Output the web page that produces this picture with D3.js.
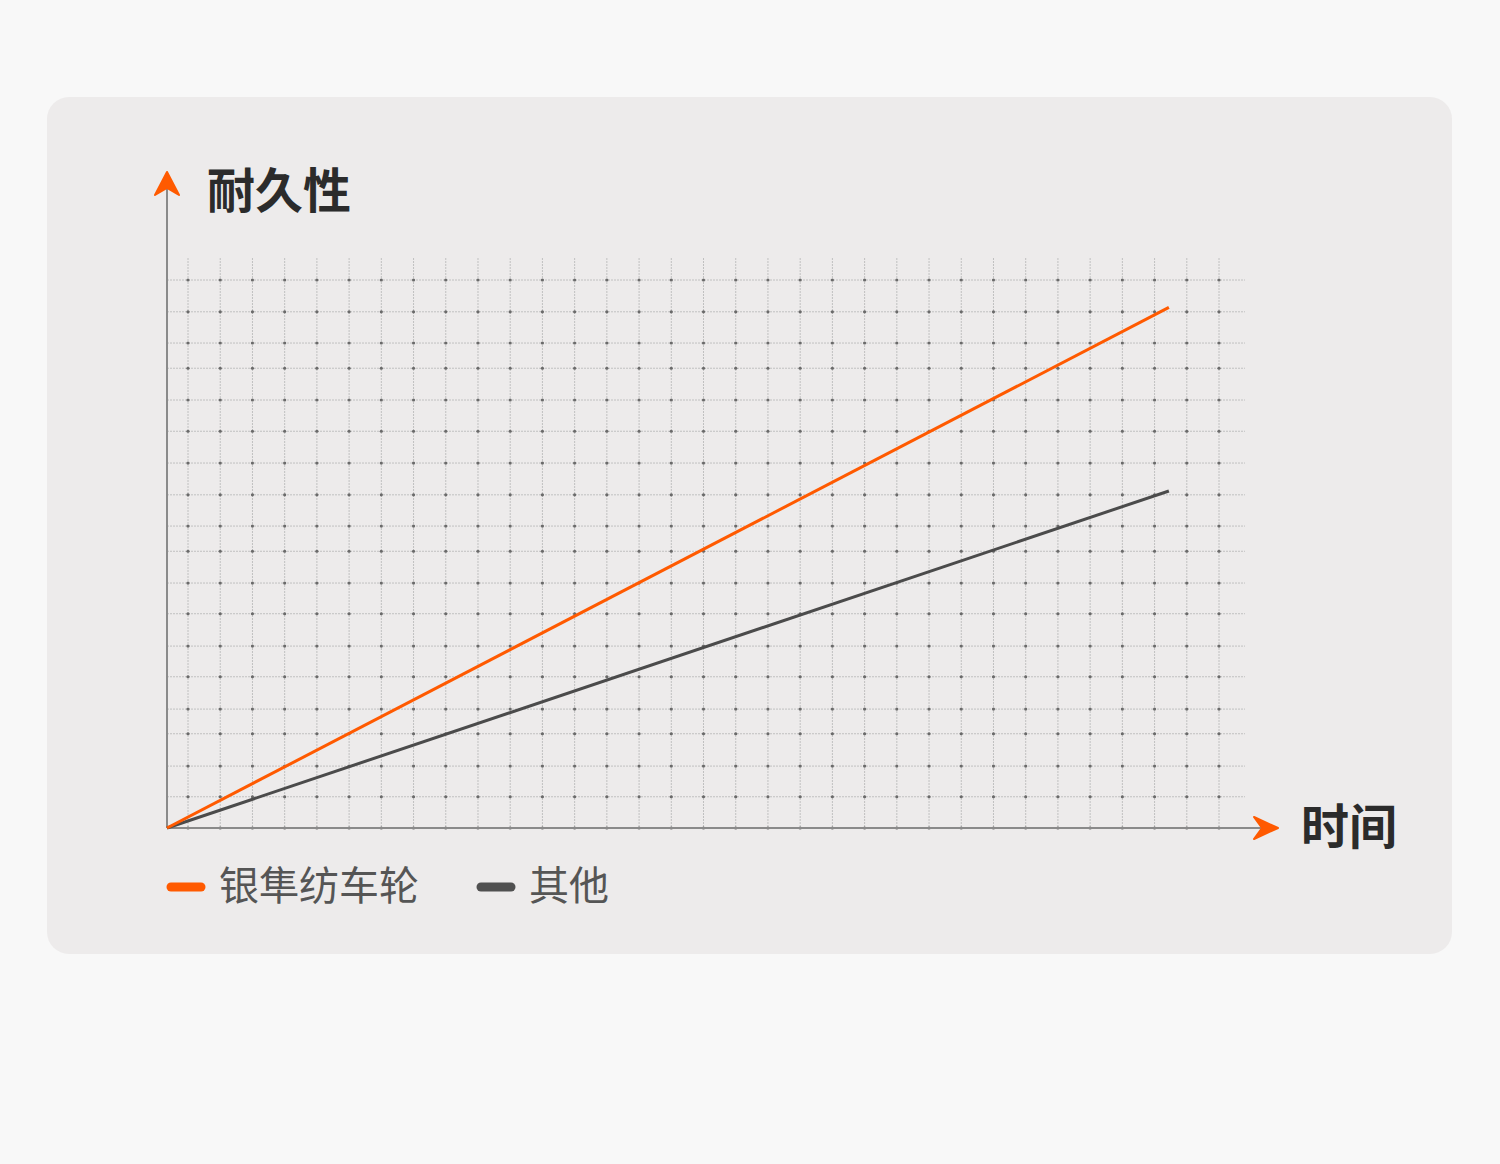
<!DOCTYPE html>
<html lang="zh">

<head>
    <meta charset="UTF-8">
    <title>耐久性</title>
    <style>
        body {
            margin: 0;
            background: #f8f8f8;
        }

        svg text {
            font-family: "Noto Sans CJK SC", sans-serif;
        }
    </style>
</head>

<body>
    <div id="chart"></div>

    <script src="https://cdnjs.cloudflare.com/ajax/libs/d3/7.0.0/d3.min.js"></script>

    <script>
        // data
        var times = [0, 10];
        var silverFalcon = [0, 95];   // 银隼纺车轮
        var others = [0, 61.5];       // 其他
        var seriesNames = ["银隼纺车轮", "其他"];
        var yTitle = "耐久性";
        var xTitle = "时间";
        // graph-paper rows (in durability units), they are not evenly spaced
        var gridRows = [5.7, 11.3, 17.2, 21.7, 27.6, 33.2, 39.1, 44.7, 50.5, 55.1, 60.8, 66.6, 72.4, 78.1, 83.9, 88.5, 94.2, 100];

        var W = 1500, H = 1164;
        var orange = "#ff5a00", dark = "#4b4b4b";

        var svg = d3.select("#chart").append("svg")
            .attr("width", W)
            .attr("height", H);

        // card
        svg.append("rect")
            .attr("x", 47).attr("y", 97)
            .attr("width", 1405).attr("height", 857)
            .attr("rx", 22)
            .attr("fill", "#edebeb");

        var x = d3.scaleLinear().domain([0, 10.5]).range([167, 1219]);
        var y = d3.scaleLinear().domain([0, 100]).range([828, 280]);

        // columns of the graph paper
        var cols = d3.scaleLinear().domain([0, 32]).range([188, 1219]);
        var colIdx = d3.range(33);

        var grid = svg.append("g");

        grid.selectAll(".vline")
            .data(colIdx)
            .enter().append("line")
            .attr("x1", d => cols(d)).attr("x2", d => cols(d))
            .attr("y1", 258).attr("y2", y(0))
            .attr("stroke", "#c0c0c0")
            .attr("stroke-width", 1)
            .attr("stroke-dasharray", "2,1");

        grid.selectAll(".hline")
            .data(gridRows)
            .enter().append("line")
            .attr("x1", x(0)).attr("x2", 1245)
            .attr("y1", d => y(d)).attr("y2", d => y(d))
            .attr("stroke", "#c0c0c0")
            .attr("stroke-width", 1)
            .attr("stroke-dasharray", "2,1");

        // dots where the lines cross
        var crossings = [];
        gridRows.concat([0]).forEach(r => colIdx.forEach(c => crossings.push({ r: r, c: c })));
        grid.selectAll("circle")
            .data(crossings)
            .enter().append("circle")
            .attr("cx", d => cols(d.c))
            .attr("cy", d => y(d.r))
            .attr("r", 1.6)
            .attr("fill", "#6a6a6a");

        // axes
        svg.append("line")
            .attr("x1", x(0)).attr("x2", x(0))
            .attr("y1", y(0)).attr("y2", 180)
            .attr("stroke", "#8a8a8a").attr("stroke-width", 2);

        svg.append("line")
            .attr("x1", x(0)).attr("x2", 1266)
            .attr("y1", y(0)).attr("y2", y(0))
            .attr("stroke", "#8a8a8a").attr("stroke-width", 2);

        // arrow heads
        var ax = x(0), ay = y(0);
        svg.append("path")
            .attr("d", `M${ax},172 L${ax + 12},195 L${ax},188 L${ax - 12},195 Z`)
            .attr("fill", orange).attr("stroke", orange)
            .attr("stroke-width", 2).attr("stroke-linejoin", "round");

        svg.append("path")
            .attr("d", `M1278,${ay} L1254,${ay - 11} L1262,${ay} L1254,${ay + 11} Z`)
            .attr("fill", orange).attr("stroke", orange)
            .attr("stroke-width", 2).attr("stroke-linejoin", "round");

        // axis titles
        svg.append("text")
            .attr("x", 207).attr("y", 208)
            .attr("font-size", 48).attr("font-weight", 700)
            .attr("fill", "#2b2b2b")
            .text(yTitle);

        svg.append("text")
            .attr("x", 1301).attr("y", 844)
            .attr("font-size", 48).attr("font-weight", 700)
            .attr("fill", "#2b2b2b")
            .text(xTitle);

        // series
        var line = d3.line().x(d => x(d[0])).y(d => y(d[1]));

        svg.append("path")
            .datum(d3.zip(times, others))
            .attr("fill", "none")
            .attr("stroke", dark)
            .attr("stroke-width", 3)
            .attr("d", line);

        svg.append("path")
            .datum(d3.zip(times, silverFalcon))
            .attr("fill", "none")
            .attr("stroke", orange)
            .attr("stroke-width", 3)
            .attr("d", line);

        // legend
        var legend = svg.append("g").attr("transform", "translate(167,887)");
        var items = [
            { name: seriesNames[0], color: orange, dx: 0 },
            { name: seriesNames[1], color: "#505050", dx: 310 }
        ];
        var li = legend.selectAll("g")
            .data(items)
            .enter().append("g")
            .attr("transform", d => `translate(${d.dx},0)`);

        li.append("line")
            .attr("x1", 4).attr("x2", 34)
            .attr("y1", 0).attr("y2", 0)
            .attr("stroke", d => d.color)
            .attr("stroke-width", 9)
            .attr("stroke-linecap", "round");

        li.append("text")
            .attr("x", 52).attr("y", 13)
            .attr("font-size", 40)
            .attr("fill", "#555")
            .text(d => d.name);
    </script>
</body>

</html>
